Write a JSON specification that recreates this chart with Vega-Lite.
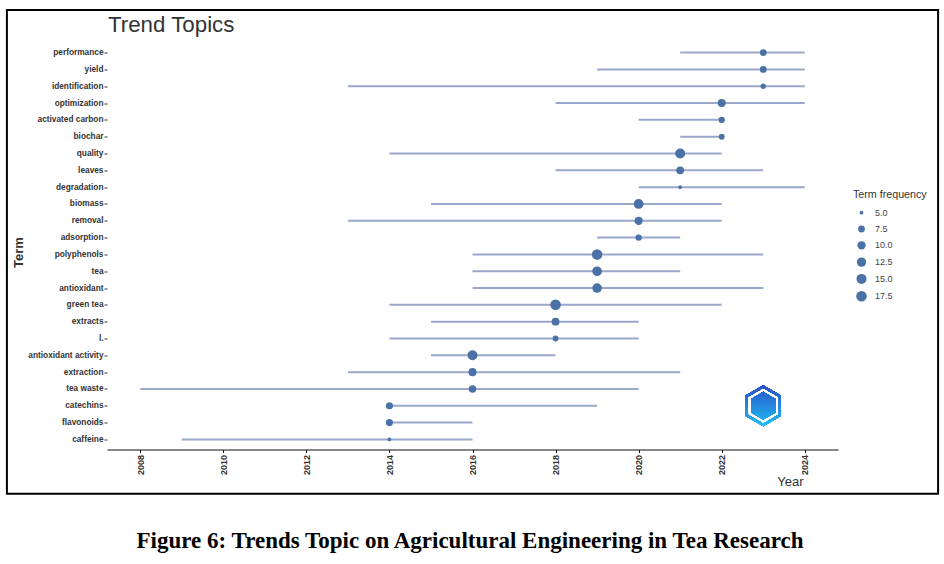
{
  "$schema": "https://vega.github.io/schema/vega-lite/v6.json",
  "width": 731,
  "height": 407,
  "autosize": {"type": "none"},
  "padding": {"left": 107, "top": 42.5, "right": 106, "bottom": 114.5},
  "background": "white",
  "config": {
    "view": {"stroke": null},
    "font": "Liberation Sans",
    "axisX": {
      "domainColor": "#111111",
      "domainWidth": 1.2,
      "tickColor": "#111111",
      "tickSize": 3,
      "labelAngle": 270,
      "labelFontSize": 9,
      "labelFontWeight": "bold",
      "labelColor": "#333333",
      "labelPadding": 2,
      "grid": false,
      "titleFontSize": 13,
      "titleFontWeight": "normal",
      "titleColor": "#333333",
      "titleX": 683,
      "titleY": 35.5,
      "titleAlign": "center",
      "titleBaseline": "alphabetic"
    },
    "axisY": {
      "domain": false,
      "tickSize": 3,
      "tickColor": "#333333",
      "labelFontSize": 8.3,
      "labelFontWeight": "bold",
      "labelColor": "#333333",
      "labelPadding": 1,
      "grid": true,
      "gridColor": "#ebebeb",
      "gridWidth": 1,
      "titleFontSize": 13,
      "titleFontWeight": "bold",
      "titleColor": "#333333",
      "titleAngle": 270,
      "titleX": -89,
      "titleY": 209.5,
      "titleAlign": "center",
      "titleBaseline": "middle"
    }
  },
  "layer": [
    {
      "data": {"values": [{}]},
      "layer": [
        {
          "mark": {"type": "rect", "fill": "transparent", "stroke": "black", "strokeWidth": 2},
          "encoding": {
            "x": {"datum": 2004.79, "type": "quantitative", "title": "Year", "scale": {"domain": [2007.2, 2024.8], "nice": false}},
            "x2": {"datum": 2027.21},
            "y": {"datum": 1.08, "type": "quantitative", "scale": {"domain": [0, 1], "nice": false}, "axis": null},
            "y2": {"datum": -0.109}
          }
        },
        {
          "mark": {
            "type": "text",
            "text": "Trend Topics",
            "font": "Liberation Sans",
            "fontSize": 22.3,
            "fontWeight": "normal",
            "color": "#333333",
            "align": "left",
            "baseline": "alphabetic"
          },
          "encoding": {
            "x": {"datum": 2007.224, "type": "quantitative", "title": "Year"},
            "y": {"datum": 1.025, "type": "quantitative", "axis": null}
          }
        },
        {
          "mark": {
            "type": "text",
            "text": "Figure 6: Trends Topic on Agricultural Engineering in Tea Research",
            "font": "Liberation Serif",
            "fontSize": 23,
            "fontWeight": "bold",
            "color": "black",
            "align": "center",
            "baseline": "alphabetic"
          },
          "encoding": {
            "x": {"datum": 2015.94, "type": "quantitative", "title": "Year"},
            "y": {"datum": -0.242, "type": "quantitative", "axis": null}
          }
        }
      ]
    },
    {
      "data": {
        "values": [
          {"term": "performance", "start": 2021, "year": 2023, "end": 2024, "freq": 7.5},
          {"term": "yield", "start": 2019, "year": 2023, "end": 2024, "freq": 7.5},
          {"term": "identification", "start": 2013, "year": 2023, "end": 2024, "freq": 6},
          {"term": "optimization", "start": 2018, "year": 2022, "end": 2024, "freq": 9.5},
          {"term": "activated carbon", "start": 2020, "year": 2022, "end": 2022, "freq": 7},
          {"term": "biochar", "start": 2021, "year": 2022, "end": 2022, "freq": 6.5},
          {"term": "quality", "start": 2014, "year": 2021, "end": 2022, "freq": 15},
          {"term": "leaves", "start": 2018, "year": 2021, "end": 2023, "freq": 9},
          {"term": "degradation", "start": 2020, "year": 2021, "end": 2024, "freq": 5},
          {"term": "biomass", "start": 2015, "year": 2020, "end": 2022, "freq": 14},
          {"term": "removal", "start": 2013, "year": 2020, "end": 2022, "freq": 10},
          {"term": "adsorption", "start": 2019, "year": 2020, "end": 2021, "freq": 7},
          {"term": "polyphenols", "start": 2016, "year": 2019, "end": 2023, "freq": 17},
          {"term": "tea", "start": 2016, "year": 2019, "end": 2021, "freq": 13.5},
          {"term": "antioxidant", "start": 2016, "year": 2019, "end": 2023, "freq": 13.5},
          {"term": "green tea", "start": 2014, "year": 2018, "end": 2022, "freq": 17.5},
          {"term": "extracts", "start": 2015, "year": 2018, "end": 2020, "freq": 9},
          {"term": "l.", "start": 2014, "year": 2018, "end": 2020, "freq": 6.5},
          {"term": "antioxidant activity", "start": 2015, "year": 2016, "end": 2018, "freq": 15},
          {"term": "extraction", "start": 2013, "year": 2016, "end": 2021, "freq": 9.5},
          {"term": "tea waste", "start": 2008, "year": 2016, "end": 2020, "freq": 8.5},
          {"term": "catechins", "start": 2014, "year": 2014, "end": 2019, "freq": 8},
          {"term": "flavonoids", "start": 2014, "year": 2014, "end": 2016, "freq": 8},
          {"term": "caffeine", "start": 2009, "year": 2014, "end": 2016, "freq": 5}
        ]
      },
      "layer": [
        {
          "mark": {"type": "rule", "color": "#9ba7cb", "strokeWidth": 2},
          "encoding": {
            "x": {
              "field": "start",
              "type": "quantitative",
              "title": "Year",
              "scale": {"domain": [2007.2, 2024.8], "nice": false},
              "axis": {"values": [2008, 2010, 2012, 2014, 2016, 2018, 2020, 2022, 2024], "format": "d"}
            },
            "x2": {"field": "end"},
            "y": {
              "field": "term",
              "type": "nominal",
              "title": "Term",
              "sort": ["performance", "yield", "identification", "optimization", "activated carbon", "biochar", "quality", "leaves", "degradation", "biomass", "removal", "adsorption", "polyphenols", "tea", "antioxidant", "green tea", "extracts", "l.", "antioxidant activity", "extraction", "tea waste", "catechins", "flavonoids", "caffeine"],
              "scale": {"type": "point", "padding": 0.6}
            }
          }
        },
        {
          "mark": {"type": "circle", "color": "#4b72a6", "opacity": 1},
          "encoding": {
            "x": {"field": "year", "type": "quantitative", "title": "Year"},
            "y": {"field": "term", "type": "nominal", "title": "Term", "sort": ["performance", "yield", "identification", "optimization", "activated carbon", "biochar", "quality", "leaves", "degradation", "biomass", "removal", "adsorption", "polyphenols", "tea", "antioxidant", "green tea", "extracts", "l.", "antioxidant activity", "extraction", "tea waste", "catechins", "flavonoids", "caffeine"]},
            "size": {
              "field": "freq",
              "type": "quantitative",
              "scale": {"type": "log", "domain": [5, 17.5], "range": [14, 113]},
              "legend": {
                "title": "Term frequency",
                "orient": "none",
                "legendX": 746,
                "legendY": 147,
                "values": [5, 7.5, 10, 12.5, 15, 17.5],
                "format": ".1f",
                "titleFontSize": 10.7,
                "titleFontWeight": "normal",
                "titleColor": "#333333",
                "titlePadding": 8,
                "labelFontSize": 9,
                "labelColor": "#444444",
                "labelOffset": 8,
                "symbolFillColor": "#4b72a6",
                "symbolStrokeWidth": 0,
                "symbolOpacity": 1,
                "symbolOffset": 3,
                "rowPadding": 6.3
              }
            }
          }
        },
        {
          "mark": {
            "type": "point",
            "shape": "M0,-1L0.866,-0.5L0.866,0.5L0,1L-0.866,0.5L-0.866,-0.5Z",
            "size": 1681,
            "filled": true,
            "opacity": 1,
            "color": {"gradient": "linear", "x1": 0, "y1": 0, "x2": 0, "y2": 1, "stops": [{"offset": 0, "color": "#2a4fc6"}, {"offset": 1, "color": "#1fc0f4"}]}
          },
          "encoding": {
            "x": {"datum": 2023, "type": "quantitative", "title": "Year"},
            "y": {"datum": "catechins", "type": "nominal", "title": "Term"}
          }
        },
        {
          "mark": {
            "type": "point",
            "shape": "M0,-1L0.866,-0.5L0.866,0.5L0,1L-0.866,0.5L-0.866,-0.5Z",
            "size": 1000,
            "filled": false,
            "stroke": "white",
            "strokeWidth": 1.5,
            "opacity": 1
          },
          "encoding": {
            "x": {"datum": 2023, "type": "quantitative", "title": "Year"},
            "y": {"datum": "catechins", "type": "nominal", "title": "Term"}
          }
        }
      ]
    }
  ],
  "resolve": {"scale": {"y": "independent"}}
}
